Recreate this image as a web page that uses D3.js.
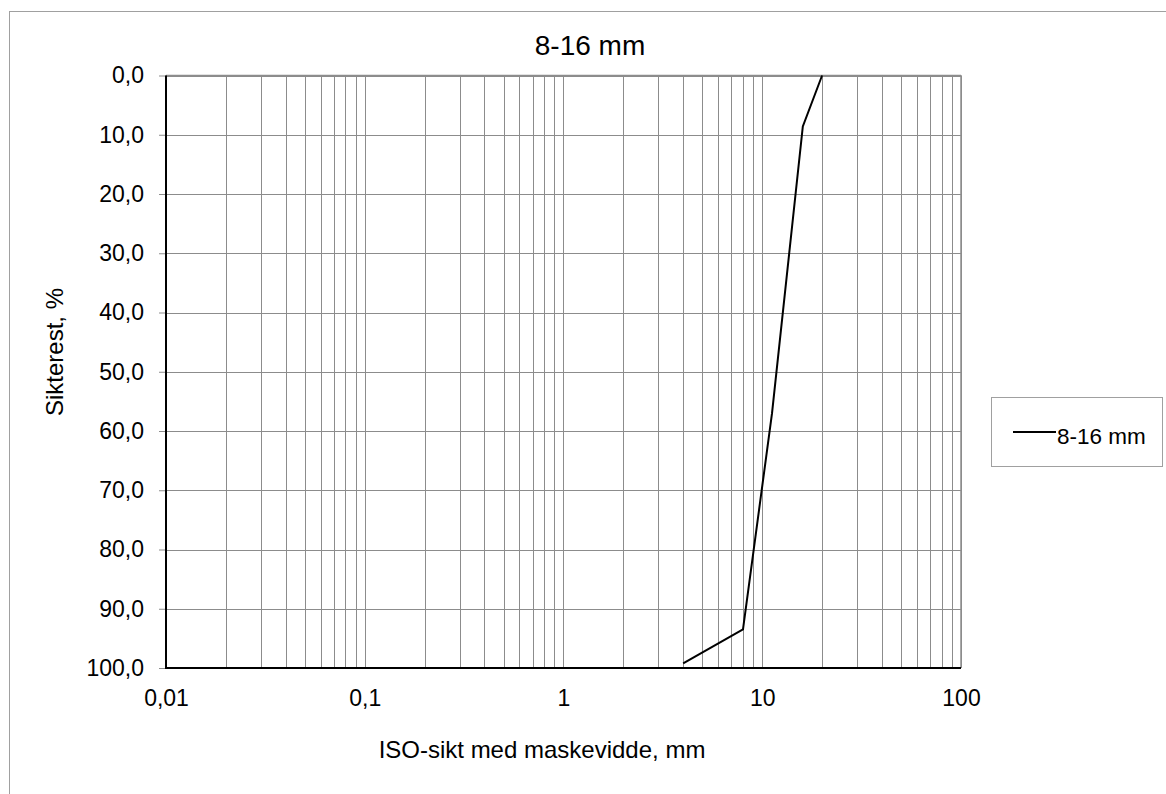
<!DOCTYPE html>
<html>
<head>
<meta charset="utf-8">
<script src="https://cdn.jsdelivr.net/npm/d3@7"></script>
<style>
  html, body { margin: 0; padding: 0; background: #fff; }
  svg { display: block; font-family: "Liberation Sans", Arial, sans-serif; }
</style>
</head>
<body>
<svg id="chart" width="1166" height="794"></svg>
<script>
// Sieve analysis, 8-16 mm aggregate: residue (%) per ISO sieve size (mm)
const sieveSizes = [4, 8, 11.2, 16, 20];
const residuePct = [99.2, 93.5, 57, 8.6, 0];
const seriesName = "8-16 mm";
const xTickValues = [0.01, 0.1, 1, 10, 100];
const xTickLabels = ["0,01", "0,1", "1", "10", "100"];
const yTickValues = [0, 10, 20, 30, 40, 50, 60, 70, 80, 90, 100];

const FONT = "Liberation Sans, Arial, sans-serif";
const svg = d3.select("#chart");
const plot = { left: 166, top: 75.5, right: 961, bottom: 668 };

const x = d3.scaleLog().domain([0.01, 100]).range([plot.left, plot.right]);
const y = d3.scaleLinear().domain([0, 100]).range([plot.top, plot.bottom]);

// outer chart frame (runs past the right and bottom edges)
svg.append("rect")
  .attr("x", 9.5).attr("y", 11.5)
  .attr("width", 1200).attr("height", 820)
  .attr("fill", "none").attr("stroke", "#a0a0a0").attr("stroke-width", 1);

// vertical grid: every 1..9 step of each decade
const gridX = [];
for (let e = -2; e < 2; e++) {
  for (let m = 1; m <= 9; m++) gridX.push(m * Math.pow(10, e));
}
gridX.push(100);

const gridColor = "#8c8c8c";
svg.append("g").selectAll("line").data(gridX).join("line")
  .attr("x1", d => Math.round(x(d)) + 0.5).attr("x2", d => Math.round(x(d)) + 0.5)
  .attr("y1", plot.top).attr("y2", plot.bottom)
  .attr("stroke", gridColor).attr("stroke-width", 1);

// horizontal grid
svg.append("g").selectAll("line").data(yTickValues).join("line")
  .attr("x1", plot.left).attr("x2", plot.right)
  .attr("y1", d => Math.round(y(d)) + 0.5).attr("y2", d => Math.round(y(d)) + 0.5)
  .attr("stroke", gridColor).attr("stroke-width", 1);

// y axis (reversed: 0 at top)
const yAxis = d3.axisLeft(y).tickValues(yTickValues).tickSize(7).tickPadding(15)
  .tickFormat(d => d3.format(".1f")(d).replace(".", ","));
const gy = svg.append("g").attr("transform", `translate(${plot.left},0)`).call(yAxis);
gy.select(".domain").remove();
gy.selectAll(".tick line").attr("stroke", gridColor);
gy.selectAll(".tick text").attr("font-size", 23).attr("fill", "#000").attr("font-family", FONT);

// x axis (log)
const xAxis = d3.axisBottom(x).tickValues(xTickValues).tickSize(0).tickPadding(22)
  .tickFormat((d, i) => xTickLabels[i]);
const gx = svg.append("g").attr("transform", `translate(0,${plot.bottom})`).call(xAxis);
gx.select(".domain").remove();
gx.selectAll(".tick text").attr("font-size", 23).attr("fill", "#000").attr("font-family", FONT);

// plot border: left and bottom black, top and right gray
svg.append("line").attr("x1", plot.left).attr("x2", plot.right)
  .attr("y1", plot.top).attr("y2", plot.top).attr("stroke", gridColor).attr("stroke-width", 1.5);
svg.append("line").attr("x1", plot.right).attr("x2", plot.right)
  .attr("y1", plot.top).attr("y2", plot.bottom).attr("stroke", gridColor).attr("stroke-width", 1.5);
svg.append("line").attr("x1", plot.left).attr("x2", plot.left)
  .attr("y1", plot.top).attr("y2", plot.bottom + 1).attr("stroke", "#000").attr("stroke-width", 2);
svg.append("line").attr("x1", plot.left).attr("x2", plot.right)
  .attr("y1", plot.bottom).attr("y2", plot.bottom).attr("stroke", "#000").attr("stroke-width", 2);

// data series
const pts = sieveSizes.map((s, i) => [s, residuePct[i]]);
svg.append("path").datum(pts)
  .attr("fill", "none").attr("stroke", "#000").attr("stroke-width", 2)
  .attr("stroke-linejoin", "miter")
  .attr("d", d3.line().x(d => x(d[0])).y(d => y(d[1])));

// titles
svg.append("text").attr("x", 590).attr("y", 55)
  .attr("text-anchor", "middle").attr("font-size", 28).attr("fill", "#000")
  .text(seriesName);
svg.append("text").attr("x", 542).attr("y", 758)
  .attr("text-anchor", "middle").attr("font-size", 24).attr("fill", "#000")
  .text("ISO-sikt med maskevidde, mm");
svg.append("text")
  .attr("transform", "translate(63,352) rotate(-90)")
  .attr("text-anchor", "middle").attr("font-size", 24).attr("fill", "#000")
  .text("Sikterest, %");

// legend
const lg = svg.append("g");
lg.append("rect").attr("x", 991.5).attr("y", 397.5).attr("width", 171).attr("height", 69)
  .attr("fill", "#fff").attr("stroke", "#a0a0a0");
lg.append("line").attr("x1", 1013).attr("x2", 1056).attr("y1", 432).attr("y2", 432)
  .attr("stroke", "#000").attr("stroke-width", 2);
lg.append("text").attr("x", 1057).attr("y", 444).attr("font-size", 22.5).attr("fill", "#000")
  .text(seriesName);
</script>
</body>
</html>
